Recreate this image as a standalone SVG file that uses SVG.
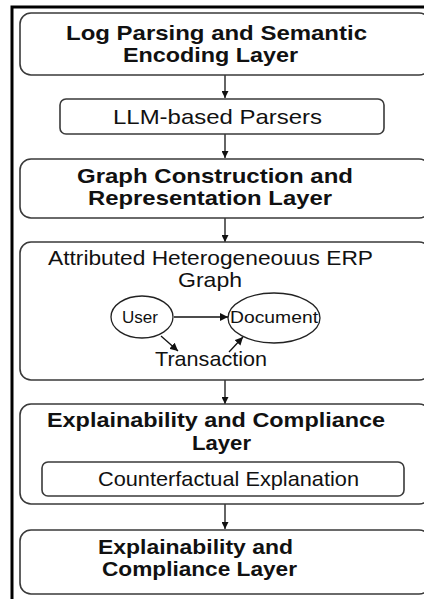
<svg xmlns="http://www.w3.org/2000/svg" width="424" height="599" viewBox="0 0 424 599">
  <style>
    .frame { fill: none; stroke: #000; stroke-width: 3; }
    .box { fill: #fff; stroke: #3a3a3a; stroke-width: 1.6; }
    .ell { fill: #fff; stroke: #222; stroke-width: 1.3; }
    .edge { fill: none; stroke: #111; stroke-width: 1.3; }
    .hd { font-family: "Liberation Sans", Arial, sans-serif; font-weight: bold; font-size: 21px; fill: #111; }
    .tx { font-family: "Liberation Sans", Arial, sans-serif; font-size: 21px; fill: #111; }
    .sm { font-family: "Liberation Sans", Arial, sans-serif; font-size: 17px; fill: #111; }
  </style>
  <defs>
    <marker id="arr" viewBox="0 0 10 10" refX="10" refY="5" markerWidth="7" markerHeight="7" markerUnits="userSpaceOnUse" orient="auto">
      <path d="M0,0 L10,5 L0,10 z" fill="#111"/>
    </marker>
    <marker id="arrS" viewBox="0 0 10 10" refX="10" refY="5" markerWidth="8" markerHeight="8" markerUnits="userSpaceOnUse" orient="auto">
      <path d="M0,0 L10,5 L0,10 z" fill="#111"/>
    </marker>
  </defs>

  <rect width="424" height="599" fill="#fff"/>
  <!-- outer frame, open past the right and bottom edges -->
  <rect class="frame" x="12" y="7" width="430" height="610"/>

  <g id="connectors">
    <line class="edge" x1="225" y1="75" x2="225" y2="98" marker-end="url(#arr)"/>
    <line class="edge" x1="225" y1="134" x2="225" y2="158" marker-end="url(#arr)"/>
    <line class="edge" x1="225" y1="218" x2="225" y2="242" marker-end="url(#arr)"/>
    <line class="edge" x1="225" y1="380" x2="225" y2="404" marker-end="url(#arr)"/>
    <line class="edge" x1="225" y1="504" x2="225" y2="529" marker-end="url(#arr)"/>
  </g>

  <g id="log-parsing-layer">
    <rect class="box" x="20" y="13" width="410" height="62" rx="11"/>
    <text class="hd" x="66" y="40" textLength="301" lengthAdjust="spacingAndGlyphs">Log Parsing and Semantic</text>
    <text class="hd" x="123" y="62" textLength="175" lengthAdjust="spacingAndGlyphs">Encoding Layer</text>
  </g>

  <g id="llm-parsers">
    <rect class="box" x="60" y="99" width="324" height="35" rx="6"/>
    <text class="tx" x="113" y="124" textLength="209" lengthAdjust="spacingAndGlyphs">LLM-based Parsers</text>
  </g>

  <g id="graph-construction-layer">
    <rect class="box" x="20" y="159" width="410" height="59" rx="11"/>
    <text class="hd" x="77" y="183" textLength="276" lengthAdjust="spacingAndGlyphs">Graph Construction and</text>
    <text class="hd" x="88" y="205" textLength="244" lengthAdjust="spacingAndGlyphs">Representation Layer</text>
  </g>

  <g id="erp-graph">
    <rect class="box" x="20" y="242" width="410" height="138" rx="11"/>
    <text class="tx" x="48" y="265" textLength="325" lengthAdjust="spacingAndGlyphs">Attributed Heterogeneouus ERP</text>
    <text class="tx" x="178" y="287" textLength="64" lengthAdjust="spacingAndGlyphs">Graph</text>
    <g id="node-user">
      <ellipse class="ell" cx="142" cy="317" rx="31" ry="21"/>
      <text class="sm" x="122" y="323" textLength="36" lengthAdjust="spacingAndGlyphs">User</text>
    </g>
    <g id="node-document">
      <ellipse class="ell" cx="274" cy="318" rx="46" ry="25"/>
      <text class="sm" x="230" y="323" textLength="88" lengthAdjust="spacingAndGlyphs">Document</text>
    </g>
    <g id="node-transaction">
      <text class="tx" x="155" y="366" font-size="20" textLength="112" lengthAdjust="spacingAndGlyphs">Transaction</text>
    </g>
    <g id="graph-edges">
      <line class="edge" x1="174" y1="317" x2="228" y2="317" marker-end="url(#arrS)"/>
      <line class="edge" x1="161" y1="336" x2="178" y2="351" marker-end="url(#arrS)"/>
      <line class="edge" x1="229" y1="352" x2="243" y2="337" marker-end="url(#arrS)"/>
    </g>
  </g>

  <g id="explainability-layer">
    <rect class="box" x="20" y="404" width="410" height="100" rx="11"/>
    <text class="hd" x="47" y="427" textLength="338" lengthAdjust="spacingAndGlyphs">Explainability and Compliance</text>
    <text class="hd" x="192" y="450" textLength="59" lengthAdjust="spacingAndGlyphs">Layer</text>
    <g id="counterfactual">
      <rect class="box" x="42" y="462" width="362" height="34" rx="6"/>
      <text class="tx" x="98" y="486" textLength="261" lengthAdjust="spacingAndGlyphs">Counterfactual Explanation</text>
    </g>
  </g>

  <g id="compliance-layer">
    <rect class="box" x="20" y="530" width="410" height="64" rx="11"/>
    <text class="hd" x="98" y="554" textLength="195" lengthAdjust="spacingAndGlyphs">Explainability and</text>
    <text class="hd" x="102" y="576" textLength="195" lengthAdjust="spacingAndGlyphs">Compliance Layer</text>
  </g>
</svg>
